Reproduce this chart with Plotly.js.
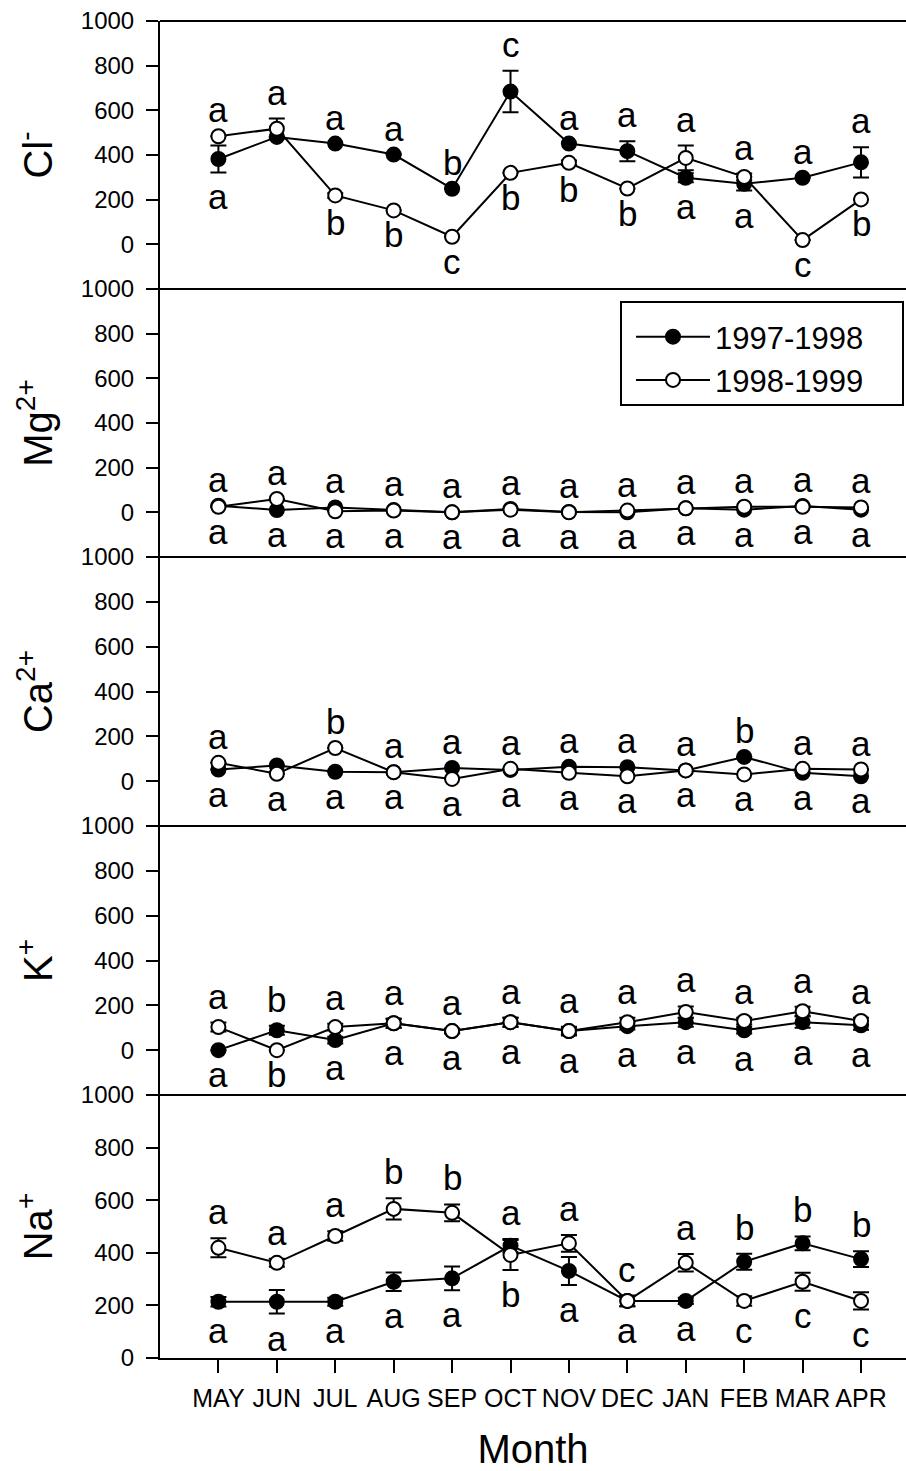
<!DOCTYPE html>
<html>
<head>
<meta charset="utf-8">
<script src="https://cdn.plot.ly/plotly-3.0.1.min.js"></script>
<style>html,body{margin:0;padding:0;background:#fff;}#chart{width:906px;height:1471px;}</style>
</head>
<body>
<div id="chart"></div>
<script>
// ---------- data ----------
const months = ['MAY','JUN','JUL','AUG','SEP','OCT','NOV','DEC','JAN','FEB','MAR','APR'];
const seriesNames = ['1997-1998','1998-1999'];

const clA    = [382, 481, 451, 402, 249, 684, 451, 417, 298, 271, 298, 367];
const clAErr = [60, 0, 0, 0, 0, 93, 0, 45, 20, 30, 0, 68];
const clB    = [484, 518, 219, 152, 34, 320, 365, 250, 387, 302, 19, 201];
const clBErr = [0, 45, 10, 0, 0, 0, 10, 0, 55, 15, 0, 0];
const clTop  = ['a','a','a','a','b','c','a','a','a','a','a','a'];
const clBot  = ['a','','b','b','c','b','b','b','a','a','c','b'];

const mgA    = [30, 10, 22, 10, 0, 15, 2, 0, 18, 12, 28, 12];
const mgAErr = [0,0,0,0,0,0,0,0,0,0,0,0];
const mgB    = [25, 60, 5, 8, 0, 12, 0, 8, 18, 25, 25, 22];
const mgBErr = [0,0,0,0,0,0,0,0,0,0,0,0];
const mgTop  = ['a','a','a','a','a','a','a','a','a','a','a','a'];
const mgBot  = ['a','a','a','a','a','a','a','a','a','a','a','a'];

const caA    = [52, 70, 42, 40, 59, 50, 64, 62, 48, 108, 37, 22];
const caAErr = [0,0,0,0,0,0,0,0,0,0,0,0];
const caB    = [82, 33, 148, 40, 10, 55, 37, 22, 48, 30, 55, 52];
const caBErr = [0,0,0,0,0,0,0,0,0,0,0,0];
const caTop  = ['a','','b','a','a','a','a','a','a','b','a','a'];
const caBot  = ['a','a','a','a','a','a','a','a','a','a','a','a'];

const kA     = [0, 89, 45, 120, 85, 125, 85, 107, 125, 89, 125, 111];
const kAErr  = [0, 20, 15, 20, 10, 20, 20, 15, 20, 15, 25, 20];
const kB     = [103, 0, 103, 120, 85, 125, 85, 125, 170, 130, 174, 130];
const kBErr  = [20, 0, 15, 20, 10, 20, 15, 20, 25, 15, 20, 15];
const kTop   = ['a','b','a','a','a','a','a','a','a','a','a','a'];
const kBot   = ['a','b','a','a','a','a','a','a','a','a','a','a'];

const naA    = [214, 214, 214, 290, 303, 427, 331, 217, 217, 366, 436, 376];
const naAErr = [18, 45, 15, 35, 45, 25, 53, 20, 12, 30, 26, 30];
const naB    = [419, 362, 464, 567, 552, 392, 436, 217, 362, 217, 290, 217];
const naBErr = [36, 15, 18, 40, 32, 57, 32, 20, 33, 18, 34, 33];
const naTop  = ['a','a','a','b','b','a','a','c','a','b','b','b'];
const naBot  = ['a','a','a','a','a','b','a','a','a','c','c','c'];

const ionTitles = ['Cl<sup>-</sup>','Mg<sup>2+</sup>','Ca<sup>2+</sup>','K<sup>+</sup>','Na<sup>+</sup>'];
const yTickVals = [0, 200, 400, 600, 800, 1000];

// ---------- build ----------
const FONT = 'Liberation Sans, Arial, Helvetica, sans-serif';
const panels = [
  {a: clA, ae: clAErr, b: clB, be: clBErr, top: clTop, bot: clBot},
  {a: mgA, ae: mgAErr, b: mgB, be: mgBErr, top: mgTop, bot: mgBot},
  {a: caA, ae: caAErr, b: caB, be: caBErr, top: caTop, bot: caBot},
  {a: kA,  ae: kAErr,  b: kB,  be: kBErr,  top: kTop,  bot: kBot},
  {a: naA, ae: naAErr, b: naB, be: naBErr, top: naTop, bot: naBot}
];
const xIdx = months.map((m, i) => i + 1);

// panel pixel geometry (top of plot area at 21px, bottom at 1358px)
const bounds = [21, 289, 557, 826, 1095, 1358];
const plotLeft = 160, plotW = 746;
const plotTop = 21, plotBot = 1358, H = plotBot - plotTop;
const toPaper = px => (plotBot - px) / H;
const toPaperX = px => (px - plotLeft) / plotW;

const traces = [];
const annotations = [];
const shapes = [];
const layout = {
  width: 906, height: 1471,
  margin: {l: plotLeft, r: 0, t: 21, b: 113},
  paper_bgcolor: '#fff', plot_bgcolor: 'rgba(0,0,0,0)',
  font: {family: FONT, color: '#000', size: 24},
  showlegend: true,
  legend: {
    x: toPaperX(631), y: toPaper(310), xanchor: 'left', yanchor: 'top',
    bgcolor: 'rgba(0,0,0,0)', borderwidth: 0,
    font: {family: FONT, size: 31, color: '#000'},
    itemwidth: 74, tracegroupgap: 0
  },
  xaxis: {
    domain: [0, 1], range: [0, 12.77], anchor: 'y5',
    tickvals: xIdx, ticktext: months,
    showline: true, linecolor: '#000', linewidth: 2,
    ticks: 'outside', ticklen: 13, tickwidth: 2, tickcolor: '#000',
    showgrid: false, zeroline: false,
    tickfont: {family: FONT, size: 25},
    ticklabelstandoff: 4,
    title: {text: 'Month', font: {family: FONT, size: 40}, standoff: 24}
  },
  annotations: annotations,
  shapes: shapes
};

// legend frame
shapes.push({type: 'rect', xref: 'paper', yref: 'paper',
  x0: toPaperX(621), x1: toPaperX(903), y0: toPaper(405), y1: toPaper(302),
  fillcolor: '#fff', line: {color: '#000', width: 2}, layer: 'below'});

panels.forEach((p, k) => {
  const yName = k === 0 ? 'y' : 'y' + (k + 1);
  const axKey = k === 0 ? 'yaxis' : 'yaxis' + (k + 1);
  const isLast = k === panels.length - 1;
  layout[axKey] = {
    domain: [toPaper(bounds[k + 1]), toPaper(bounds[k])],
    range: isLast ? [0, 1000] : [-200, 1000],
    anchor: 'x',
    tickvals: yTickVals,
    showline: true, linecolor: '#000', linewidth: 2,
    ticks: 'outside', ticklen: 12, tickwidth: 2, tickcolor: '#000',
    showgrid: false, zeroline: false,
    tickfont: {family: FONT, size: 24},
    ticklabelstandoff: 7,
    title: {text: ionTitles[k], font: {family: FONT, size: 40}, standoff: 16}
  };
  // top frame line of each panel
  shapes.push({type: 'line', xref: 'paper', yref: 'paper', x0: 0, x1: 1,
    y0: toPaper(bounds[k]), y1: toPaper(bounds[k]), line: {color: '#000', width: 2}});

  const common = {type: 'scatter', mode: 'lines+markers', x: xIdx, xaxis: 'x', yaxis: yName,
    line: {color: '#000', width: 2}, cliponaxis: false};
  traces.push(Object.assign({}, common, {
    y: p.a, name: seriesNames[0], showlegend: k === 0, legendgroup: 'A',
    error_y: {type: 'data', array: p.ae, visible: true, color: '#000', thickness: 2, width: 8},
    marker: {symbol: 'circle', size: 14, color: '#000', line: {color: '#000', width: 2}}
  }));
  traces.push(Object.assign({}, common, {
    y: p.b, name: seriesNames[1], showlegend: k === 0, legendgroup: 'B',
    error_y: {type: 'data', array: p.be, visible: true, color: '#000', thickness: 2, width: 8},
    marker: {symbol: 'circle', size: 14, color: '#fff', line: {color: '#000', width: 2}}
  }));

  // significance letters, placed above the highest and below the lowest bar end
  xIdx.forEach((xv, i) => {
    const hi = Math.max(p.a[i] + p.ae[i], p.b[i] + p.be[i]);
    const lo = Math.min(p.a[i] - p.ae[i], p.b[i] - p.be[i]);
    if (p.top[i]) annotations.push({x: xv, y: hi, xref: 'x', yref: yName, text: p.top[i],
      showarrow: false, yanchor: 'bottom', yshift: 5, font: {family: FONT, size: 35, color: '#000'}});
    if (p.bot[i]) annotations.push({x: xv, y: lo, xref: 'x', yref: yName, text: p.bot[i],
      showarrow: false, yanchor: 'top', yshift: -3, font: {family: FONT, size: 35, color: '#000'}});
  });
});

Plotly.newPlot('chart', traces, layout, {staticPlot: true, displayModeBar: false});
</script>
</body>
</html>
